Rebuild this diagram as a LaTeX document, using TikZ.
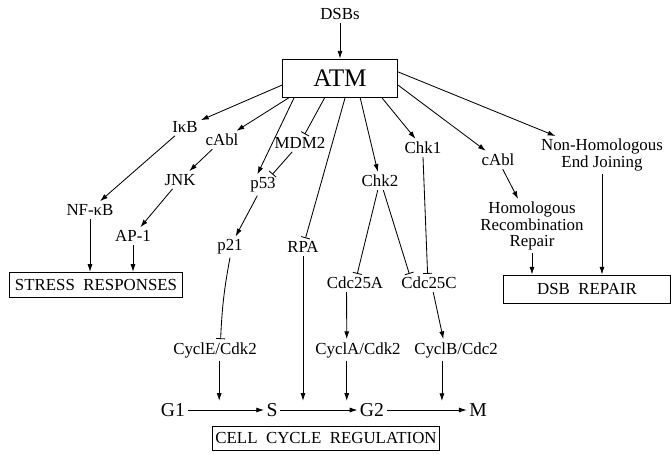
\documentclass[tikz,border=0pt]{standalone}
\usepackage{fontspec}
\setmainfont{Liberation Serif}
\usetikzlibrary{arrows.meta, positioning}

\begin{document}
\begin{tikzpicture}[x=0.025cm, y=-0.025cm, line width=0.6pt,
    >={Latex[length=5.5pt, width=3.6pt]},
    lbl/.style={font=\fontsize{12}{11.5}\selectfont, inner sep=2pt, align=center},
    phase/.style={font=\fontsize{14}{16}\selectfont, inner sep=1.5pt},
    outbox/.style={draw, font=\fontsize{12}{14}\selectfont, inner sep=2pt},
    inh/.style={-{Bar[width=6.5pt]}}]
    % 1. Khung
    \useasboundingbox (0,0) rectangle (672,454);

    % 2. ATM
    \node[lbl] (dsbs) at (340,14) {DSBs};
    \node[draw, font=\fontsize{18}{20}\selectfont, minimum width=82pt, minimum height=27pt] (atm) at (340,78) {ATM};
    \draw[->] (dsbs) -- (atm);

    % 3. Cac dich cua ATM
    \node[lbl] (ikb) at (185,127) {IκB};
    \node[lbl] (cabl) at (222,140) {cAbl};
    \node[lbl] (mdm2) at (300,143) {MDM2};
    \node[lbl] (jnk) at (180,180) {JNK};
    \node[lbl] (p53) at (263,185) {p53};
    \node[lbl] (nfkb) at (90,210) {NF-κB};
    \node[lbl] (ap1) at (133,236) {AP-1};
    \node[lbl] (p21) at (230,247) {p21};
    \node[lbl] (rpa) at (303,247) {RPA};
    \node[lbl] (chk1) at (423,148) {Chk1};
    \node[lbl] (chk2) at (380,181) {Chk2};
    \node[lbl] (cablr) at (498,160) {cAbl};
    \node[lbl] (nhej) at (602,155) {Non-Homologous\\End Joining};
    \node[lbl] (hrr) at (532,226) {Homologous\\Recombination\\Repair};
    \node[lbl] (cdc25a) at (355,283) {Cdc25A};
    \node[lbl] (cdc25c) at (429,283) {Cdc25C};
    \node[lbl] (cyce) at (215,350) {CyclE/Cdk2};
    \node[lbl] (cyca) at (358,350) {CyclA/Cdk2};
    \node[lbl] (cycb) at (456,350) {CyclB/Cdc2};

    % 4. Cac hop ket qua
    \node[outbox, minimum width=122.6pt, minimum height=18pt] (stress) at (96,285) {STRESS\ \ RESPONSES};
    \node[outbox, minimum width=119pt, minimum height=20pt] (dsbrep) at (587,289) {DSB\ \ REPAIR};
    \node[outbox, minimum width=158pt, minimum height=17pt] (ccr) at (326,438) {CELL\ \ CYCLE\ \ REGULATION};

    % 5. Chu ky te bao
    \node[phase] (g1) at (173,410) {G1};
    \node[phase] (s) at (272,410) {S};
    \node[phase] (g2) at (372,410) {G2};
    \node[phase] (m) at (478,410) {M};
    \foreach \a/\b in {g1/s, s/g2, g2/m} {
        \draw[->] (\a) -- (\b);
    }

    % 6. Mui ten tu ATM
    \draw[->] (atm.187) -- (ikb);
    \draw[->] (atm.201) -- (cabl);
    \draw[->] (atm.203) -- ([xshift=-4pt]p53.north);
    \draw[inh] (atm.232) -- (mdm2);
    \draw[inh] (atm.285) -- (rpa);
    \draw[->] (atm.316) -- (chk2);
    \draw[->] (atm.335) -- (chk1);
    \draw[->] (atm.353) -- (cablr);
    \draw[->] (atm.6) -- (nhej);

    % 7. Nhanh stress
    \draw[->] (ikb) -- (nfkb);
    \draw[->] (cabl) -- (jnk);
    \draw[->] (jnk) -- (ap1);
    \draw[->] (nfkb.south) -- (nfkb.south |- stress.north);
    \draw[->] (ap1.south) -- (ap1.south |- stress.north);

    % 8. Nhanh p53 va checkpoint
    \draw[inh] (mdm2) -- (p53);
    \draw[->] (p53) -- (p21);
    \draw[inh] (p21.south) to[bend right=4] ([xshift=4pt]cyce.north);
    \draw[inh] (chk2) -- (cdc25a);
    \draw[inh] (chk2.-70) -- ([xshift=-14pt]cdc25c.north);
    \draw[inh] (chk1.south) -- ([xshift=-1pt]cdc25c.north);
    \draw[->] ([xshift=-6pt]cdc25a.south) -- ([xshift=-8pt]cyca.north);
    \draw[->] ([xshift=3pt]cdc25c.south) -- ([xshift=-9pt]cycb.north);
    \draw[->] ([xshift=3pt]cyce.south) -- ([xshift=3pt]cyce.south |- s.north);
    \draw[->] (rpa.south) -- (rpa.south |- s.north);
    \draw[->] ([xshift=-8pt]cyca.south) -- ([xshift=-8pt]cyca.south |- g2.north);
    \draw[->] ([xshift=-10pt]cycb.south) -- ([xshift=-10pt]cycb.south |- m.north);

    % 9. Nhanh sua chua DSB
    \draw[->] (cablr) -- (hrr);
    \draw[->] (hrr.south) -- (hrr.south |- dsbrep.north);
    \draw[->] (nhej.south) -- (nhej.south |- dsbrep.north);
\end{tikzpicture}
\end{document}
